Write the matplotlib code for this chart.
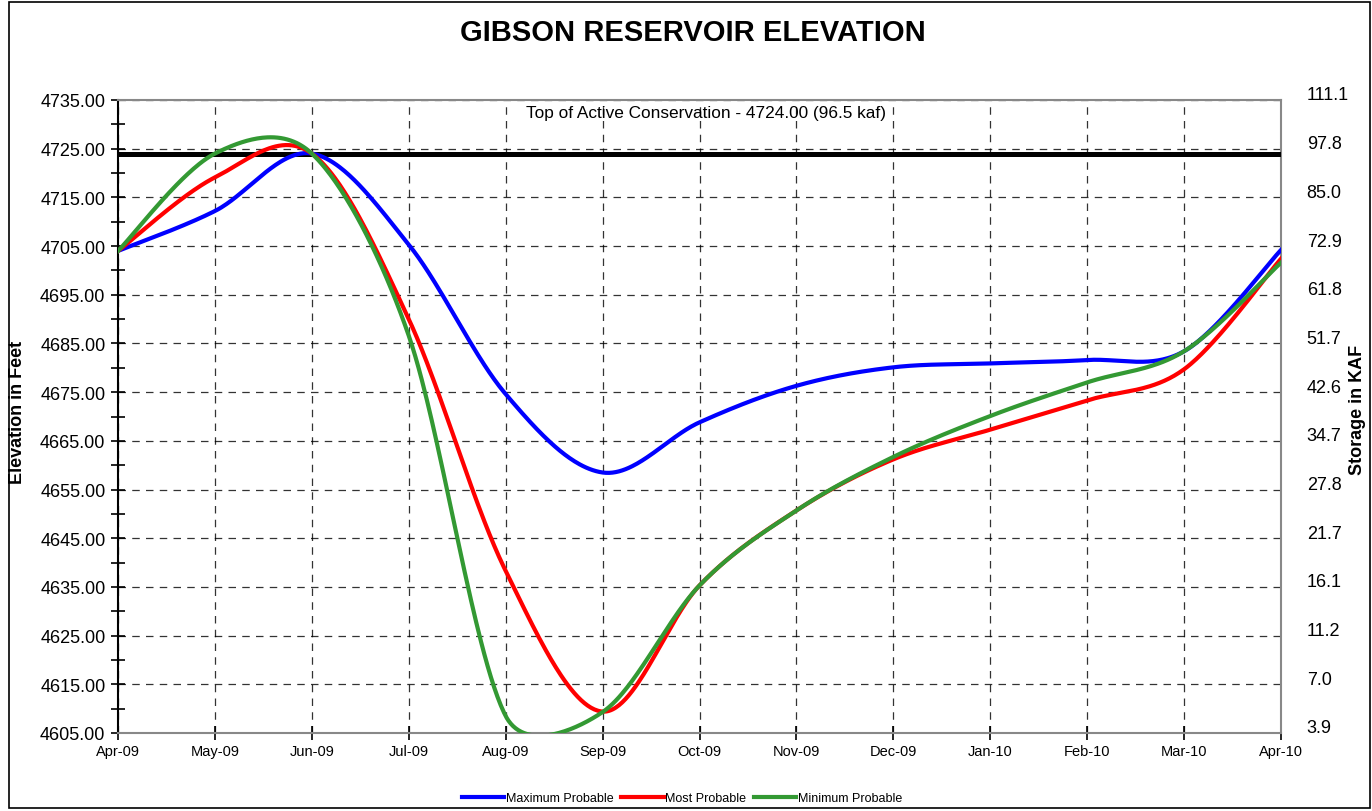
import numpy as np
import matplotlib
matplotlib.use('Agg')
import matplotlib.pyplot as plt
from matplotlib.patches import Rectangle
from matplotlib.ticker import MultipleLocator, FixedLocator
from matplotlib.transforms import ScaledTranslation

plt.rcParams['font.family'] = ['Liberation Sans', 'DejaVu Sans']

# Datos mensuales (elevación en pies)
meses = ['Apr-09', 'May-09', 'Jun-09', 'Jul-09', 'Aug-09', 'Sep-09', 'Oct-09',
         'Nov-09', 'Dec-09', 'Jan-10', 'Feb-10', 'Mar-10', 'Apr-10']
max_prob = [4704.0, 4712.2, 4724.0, 4705.3, 4674.6, 4658.5, 4668.8,
            4676.3, 4680.1, 4680.9, 4681.6, 4683.4, 4704.2]
most_prob = [4704.0, 4719.1, 4724.0, 4690.0, 4638.3, 4609.4, 4635.3,
             4650.7, 4661.2, 4667.3, 4673.3, 4679.7, 4702.4]
min_prob = [4704.0, 4724.0, 4724.0, 4686.6, 4608.5, 4609.3, 4635.3,
            4650.7, 4661.7, 4670.1, 4677.0, 4683.4, 4701.6]

top_conservacion = 4724.0
elev_ticks = list(range(4605, 4736, 10))
storage_kaf = [3.9, 7.0, 11.2, 16.1, 21.7, 27.8, 34.7, 42.6, 51.7, 61.8, 72.9, 85.0, 97.8, 111.1]

# escala aproximada en pixeles (para suavizar como Excel)
PX_MES = 1163 / 12
PX_PIE = 633 / 130


def suavizar(y, n=60):
    # curva suavizada estilo Excel: Bezier con brazos limitados en segmentos cortos
    pts = np.column_stack([np.arange(len(y)), y]).astype(float)
    esc = np.array([PX_MES, PX_PIE])
    dist = lambda a, b: np.hypot(*((a - b) * esc))
    partes = []
    t = np.linspace(0, 1, n)[:, None]
    for i in range(len(pts) - 1):
        p0 = pts[max(i - 1, 0)]
        p1 = pts[i]
        p2 = pts[i + 1]
        p3 = pts[min(i + 2, len(pts) - 1)]
        d12 = dist(p1, p2)
        d02 = max(dist(p0, p2), 1e-9)
        d13 = max(dist(p1, p3), 1e-9)
        f1 = min(1 / 6, d12 / (2.5 * d02))
        f2 = min(1 / 6, d12 / (2.5 * d13))
        c1 = p1 + (p2 - p0) * f1
        c2 = p2 - (p3 - p1) * f2
        seg = (1 - t)**3 * p1 + 3 * (1 - t)**2 * t * c1 + 3 * (1 - t) * t**2 * c2 + t**3 * p2
        partes.append(seg if i == 0 else seg[1:])
    return np.vstack(partes)


fig = plt.figure(figsize=(13.72, 8.12), dpi=100)
ax = fig.add_axes([118/1372, 78/812, 1163/1372, 633/812])

ax.axhline(top_conservacion, color='black', lw=3.6, zorder=3)

series = [(max_prob, 'blue', 'Maximum Probable'),
          (most_prob, 'red', 'Most Probable'),
          (min_prob, '#339933', 'Minimum Probable')]
for vals, col, nombre in series:
    c = suavizar(vals)
    ax.plot(c[:, 0], c[:, 1], color=col, lw=3, label=nombre, zorder=4)

ax.set_xlim(0, len(meses) - 1)
ax.set_ylim(4605, 4735)
ax.set_xticks(range(len(meses)))
ax.set_xticklabels(meses, fontsize=10.5)
ax.yaxis.set_major_locator(FixedLocator(elev_ticks))
ax.yaxis.set_minor_locator(MultipleLocator(5))
ax.set_yticklabels([f'{v:.2f}' for v in elev_ticks], fontsize=13)
ax.tick_params(axis='y', which='both', direction='inout', length=10, width=1.2, pad=4)
ax.tick_params(axis='x', which='major', direction='inout', length=10, width=1.2, pad=3)
ax.grid(True, color='black', linestyle=(0, (6, 5)), lw=0.9, alpha=0.8)
ax.set_axisbelow(True)
for lado in ['top', 'right', 'bottom']:
    ax.spines[lado].set_color('#888888')
    ax.spines[lado].set_linewidth(1.5)
ax.spines['left'].set_color('black')
ax.spines['left'].set_linewidth(1.5)

fig.text(18/1372, 1 - 412/812, 'Elevation in Feet', rotation=90, ha='center', va='center',
         fontsize=13, fontweight='bold')

ax.text(0.506, 0.98, 'Top of Active Conservation - 4724.00 (96.5 kaf)',
        transform=ax.transAxes, ha='center', va='center', fontsize=12.4)

# Eje derecho: almacenamiento
ax2 = ax.twinx()
ax2.set_ylim(ax.get_ylim())
ax2.yaxis.set_major_locator(FixedLocator(elev_ticks))
ax2.set_yticklabels([f'{v:.1f}' for v in storage_kaf], fontsize=13)
ax2.tick_params(axis='y', length=0, pad=18.5)
for lbl in ax2.get_yticklabels():
    lbl.set_transform(lbl.get_transform() + ScaledTranslation(0, 7/100, fig.dpi_scale_trans))
for lado in ax2.spines:
    ax2.spines[lado].set_visible(False)
fig.text(1357/1372, 1 - 410/812, 'Storage in KAF', rotation=90, ha='center', va='center',
         fontsize=13, fontweight='bold')

fig.suptitle('GIBSON RESERVOIR ELEVATION', x=693/1372, y=1 - 33/812, va='center',
             fontsize=21, fontweight='bold')

h, l = ax.get_legend_handles_labels()
fig.legend(h, l, loc='center', bbox_to_anchor=(682/1372, 1 - 799/812), ncol=3, frameon=False,
           fontsize=9, handlelength=3.4, handletextpad=0.15, columnspacing=0.6)

fig.patches.append(Rectangle((9/1372, 3/812), 1361/1372, 806/812, transform=fig.transFigure,
                             fill=False, edgecolor='black', lw=1.2))

fig.savefig('out.png', dpi=100)
